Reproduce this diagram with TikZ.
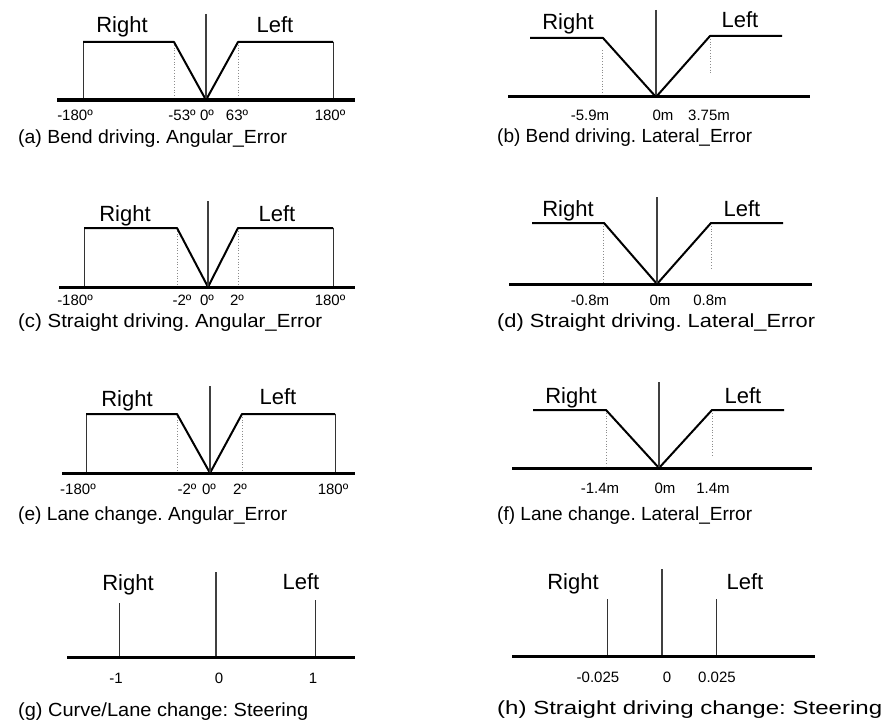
\documentclass[tikz,border=0pt]{standalone}
\usepackage{fontspec}
\usepackage{graphicx}
\setmainfont{Liberation Sans}
\frenchspacing
\newcommand{\fitw}[2]{\resizebox{#1}{\height}{#2}}
\begin{document}
\begin{tikzpicture}[x=1pt,y=-1pt,
  axis/.style={line width=3pt, black},
  zeroline/.style={line width=2.5pt, black!75},
  curve/.style={line width=2pt, black, line join=round},
  edgeline/.style={line width=1pt, black!80},
  guide/.style={line width=0.8pt, black!45, dotted},
  lbl/.style={font=\fontsize{22}{26}\selectfont, anchor=base, inner sep=0},
  tk/.style={font=\fontsize{15}{18}\selectfont, anchor=base, inner sep=0},
  captxt/.style={font=\fontsize{19}{23}\selectfont\frenchspacing, anchor=base west, inner sep=0}]
\useasboundingbox (0,0) rectangle (892,725);

% ---------- (a) ----------
\draw[guide] (174,42) -- (174,100);
\draw[guide] (238,42) -- (238,100);
\draw[edgeline] (83,100) -- (83,42);
\draw[edgeline] (333,42) -- (333,100);
\draw[curve] (83,42) -- (174,42) -- (206,100) -- (238,42) -- (333,42);
\draw[zeroline] (206,14) -- (206,100);
\draw[axis] (57,100) -- (355,100);
\node[lbl] (aR) at (122,33) {Right};
\node[lbl] (aL) at (275,33) {Left};
\node[tk] (a1) at (75,121) {-180º};
\node[tk] (a2) at (182,121) {-53º};
\node[tk] (a3) at (207,121) {0º};
\node[tk] (a4) at (237,121) {63º};
\node[tk] (a5) at (330,121) {180º};
\node[captxt] (aC) at (18,143) {\fitw{269pt}{(a) Bend driving. Angular\_Error}};

% ---------- (b) ----------
\draw[guide] (602,50) -- (602,97);
\draw[guide] (710,36) -- (710,75);
\draw[curve] (530,38) -- (603,38) -- (656,97) -- (710,36) -- (782,36);
\draw[zeroline] (656,10) -- (656,97);
\draw[axis] (508,97) -- (810,97);
\node[lbl] (bR) at (568,30) {Right};
\node[lbl] (bL) at (740,28) {Left};
\node[tk] (b1) at (590,121) {-5.9m};
\node[tk] (b2) at (663,121) {0m};
\node[tk] (b3) at (709,121) {3.75m};
\node[captxt] (bC) at (497,142) {\fitw{255pt}{(b) Bend driving. Lateral\_Error}};

% ---------- (c) ----------
\draw[guide] (177,228) -- (177,287);
\draw[guide] (238,228) -- (238,287);
\draw[edgeline] (84,287) -- (84,228);
\draw[edgeline] (333,228) -- (333,287);
\draw[curve] (84,228) -- (177,228) -- (208,287) -- (238,228) -- (333,228);
\draw[zeroline] (208,201) -- (208,287);
\draw[axis] (59,287) -- (355,287);
\node[lbl] (cR) at (125,221) {Right};
\node[lbl] (cL) at (277,221) {Left};
\node[tk] (c1) at (75,305) {-180º};
\node[tk] (c2) at (182,305) {-2º};
\node[tk] (c3) at (207,305) {0º};
\node[tk] (c4) at (237,305) {2º};
\node[tk] (c5) at (330,305) {180º};
\node[captxt] (cC) at (18,327) {\fitw{304pt}{(c) Straight driving. Angular\_Error}};

% ---------- (d) ----------
\draw[guide] (603,223) -- (603,284);
\draw[guide] (711,223) -- (711,270);
\draw[curve] (532,223) -- (604,223) -- (657,284) -- (711,223) -- (783,223);
\draw[zeroline] (657,197) -- (657,284);
\draw[axis] (509,284) -- (812,284);
\node[lbl] (dR) at (568,216) {Right};
\node[lbl] (dL) at (742,216) {Left};
\node[tk] (d1) at (590,305) {-0.8m};
\node[tk] (d2) at (660,305) {0m};
\node[tk] (d3) at (710,305) {0.8m};
\node[captxt] (dC) at (497,327) {\fitw{318pt}{(d) Straight driving. Lateral\_Error}};

% ---------- (e) ----------
\draw[guide] (177,414) -- (177,473);
\draw[guide] (242,414) -- (242,473);
\draw[edgeline] (86,473) -- (86,414);
\draw[edgeline] (335,414) -- (335,473);
\draw[curve] (86,414) -- (177,414) -- (210,473) -- (242,414) -- (335,414);
\draw[zeroline] (210,386) -- (210,473);
\draw[axis] (62,473) -- (355,473);
\node[lbl] (eR) at (127,406) {Right};
\node[lbl] (eL) at (278,404) {Left};
\node[tk] (e1) at (78,494) {-180º};
\node[tk] (e2) at (187,494) {-2º};
\node[tk] (e3) at (209,494) {0º};
\node[tk] (e4) at (240,494) {2º};
\node[tk] (e5) at (333,494) {180º};
\node[captxt] (eC) at (18,520) {\fitw{269pt}{(e) Lane change. Angular\_Error}};

% ---------- (f) ----------
\draw[guide] (606,410) -- (606,466);
\draw[guide] (712,410) -- (712,455);
\draw[curve] (533,410) -- (606,410) -- (659,468) -- (712,410) -- (784,410);
\draw[zeroline] (659,382) -- (659,468);
\draw[axis] (512,468) -- (812,468);
\node[lbl] (fR) at (571,403) {Right};
\node[lbl] (fL) at (743,403) {Left};
\node[tk] (f1) at (600,493) {-1.4m};
\node[tk] (f2) at (665,493) {0m};
\node[tk] (f3) at (713,493) {1.4m};
\node[captxt] (fC) at (497,520) {\fitw{255pt}{(f) Lane change. Lateral\_Error}};

% ---------- (g) ----------
\draw[edgeline] (119,603) -- (119,657);
\draw[edgeline] (315,600) -- (315,657);
\draw[zeroline] (216,572) -- (216,657);
\draw[axis] (67,657) -- (355,657);
\node[lbl] (gR) at (128,590) {Right};
\node[lbl] (gL) at (301,589) {Left};
\node[tk] (g1) at (116,683) {-1};
\node[tk] (g2) at (219,683) {0};
\node[tk] (g3) at (313,683) {1};
\node[captxt] (gC) at (18,716) {\fitw{290pt}{(g) Curve/Lane change: Steering}};

% ---------- (h) ----------
\draw[edgeline] (607,599) -- (607,656);
\draw[edgeline] (716,599) -- (716,656);
\draw[zeroline] (662,569) -- (662,656);
\draw[axis] (512,656) -- (815,656);
\node[lbl] (hR) at (573,589) {Right};
\node[lbl] (hL) at (745,589) {Left};
\node[tk] (h1) at (598,682) {-0.025};
\node[tk] (h2) at (667,682) {0};
\node[tk] (h3) at (717,682) {0.025};
\node[captxt] (hC) at (497,714) {\fitw{385pt}{(h) Straight driving change: Steering}};
\end{tikzpicture}
\end{document}
